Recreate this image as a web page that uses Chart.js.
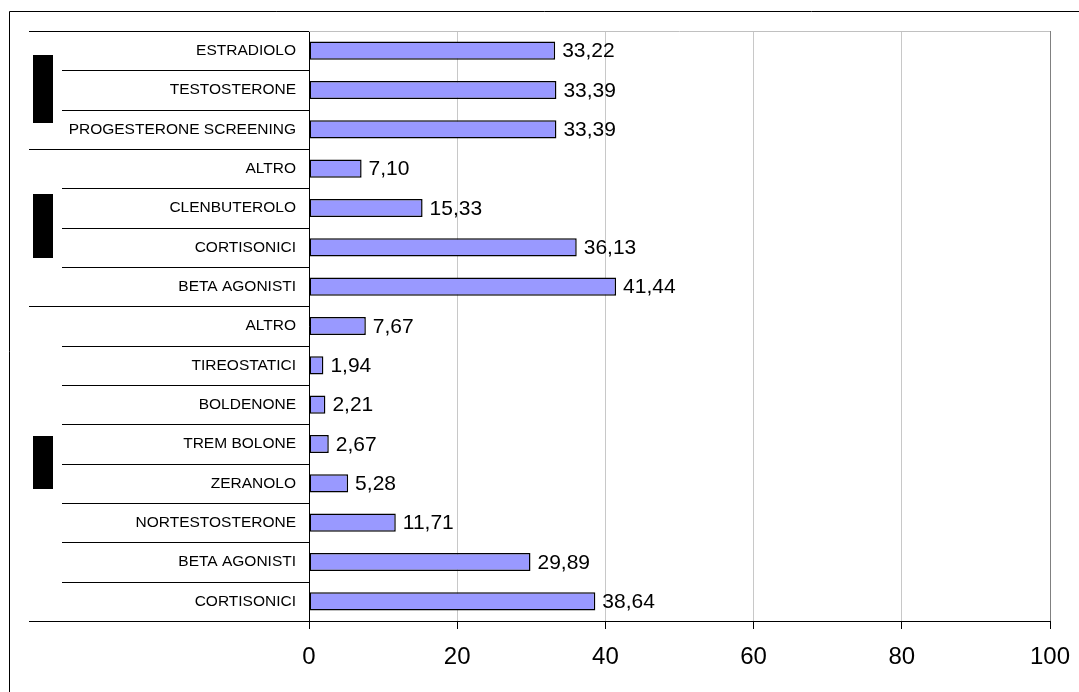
<!DOCTYPE html>
<html>
<head>
<meta charset="utf-8">
<script src="https://cdn.jsdelivr.net/npm/chart.js@4/dist/chart.umd.min.js"></script>
<style>
  body { margin: 0; background: #fff; }
  #wrap { width: 1079px; height: 692px; }
</style>
</head>
<body>
<div id="wrap"><canvas id="chart" width="1079" height="692"></canvas></div>
<script>
// categories, top to bottom
const categories = [
    'ESTRADIOLO', 'TESTOSTERONE', 'PROGESTERONE SCREENING',
    'ALTRO', 'CLENBUTEROLO', 'CORTISONICI', 'BETA AGONISTI',
    'ALTRO', 'TIREOSTATICI', 'BOLDENONE', 'TREM BOLONE', 'ZERANOLO',
    'NORTESTOSTERONE', 'BETA AGONISTI', 'CORTISONICI'
];
const values = [
    33.22, 33.39, 33.39,
    7.10, 15.33, 36.13, 41.44,
    7.67, 1.94, 2.21, 2.67, 5.28, 11.71, 29.89, 38.64
];
// number of categories in each group (top to bottom)
const groupSizes = [3, 4, 8];
const xTicks = [0, 20, 40, 60, 80, 100];

const FONT = 'Arial, "Liberation Sans", sans-serif';
// heights of the black group-label blocks
const groupBoxHeights = [68, 64, 53];

// separators in the category area, group boxes, value labels, frame
const decorations = {
    id: 'decorations',
    afterDraw(chart) {
        const ctx = chart.ctx;
        const area = chart.chartArea;
        const y = chart.scales.y;
        const n = categories.length;

        ctx.save();
        // plot area top border
        ctx.lineWidth = 1;
        ctx.strokeStyle = '#c0c0c0';
        ctx.beginPath();
        ctx.moveTo(area.left, area.top + 0.5);
        ctx.lineTo(area.right, area.top + 0.5);
        ctx.stroke();

        // separators
        const groupEnds = [];
        let acc = 0;
        groupSizes.forEach(s => { acc += s; groupEnds.push(acc); });
        ctx.strokeStyle = '#000';
        for (let i = 0; i <= n; i++) {
            let py;
            if (i === 0) py = area.top;
            else if (i === n) py = area.bottom;
            else py = (y.getPixelForValue(i - 1) + y.getPixelForValue(i)) / 2;
            py = Math.round(py) + 0.5;
            const isGroup = i === 0 || groupEnds.includes(i);
            ctx.beginPath();
            ctx.moveTo(isGroup ? 29 : 62, py);
            ctx.lineTo(area.left, py);
            ctx.stroke();
        }

        // group label blocks
        ctx.fillStyle = '#000';
        let start = 0;
        groupSizes.forEach((s, g) => {
            const top = start === 0 ? area.top : (y.getPixelForValue(start - 1) + y.getPixelForValue(start)) / 2;
            const end = start + s;
            const bot = end === n ? area.bottom : (y.getPixelForValue(end - 1) + y.getPixelForValue(end)) / 2;
            const mid = (top + bot) / 2 - 1.5;
            const h = groupBoxHeights[g];
            ctx.fillRect(33, Math.round(mid - h / 2), 20, h);
            start = end;
        });

        // value labels
        const meta = chart.getDatasetMeta(0);
        ctx.font = '21px ' + FONT;
        ctx.textAlign = 'left';
        ctx.textBaseline = 'middle';
        meta.data.forEach((bar, i) => {
            ctx.fillText(values[i].toFixed(2).replace('.', ','), bar.x + 7, bar.y + 1);
        });

        // outer frame (left and top)
        ctx.strokeStyle = '#000';
        ctx.beginPath();
        ctx.moveTo(9.5, 692);
        ctx.lineTo(9.5, 11.5);
        ctx.lineTo(1079, 11.5);
        ctx.stroke();
        ctx.restore();
    }
};

new Chart(document.getElementById('chart'), {
    type: 'bar',
    data: {
        labels: categories,
        datasets: [{
            data: values,
            backgroundColor: '#9999ff',
            borderColor: '#000',
            borderWidth: 1.5,
            borderSkipped: false,
            barPercentage: 0.46,
            categoryPercentage: 1
        }]
    },
    options: {
        indexAxis: 'y',
        responsive: false,
        animation: false,
        layout: { padding: { left: 0, top: 31, right: 29, bottom: 0 } },
        plugins: { legend: { display: false }, tooltip: { enabled: false } },
        scales: {
            x: {
                min: 0,
                max: 100,
                afterBuildTicks: axis => { axis.ticks = xTicks.map(v => ({ value: v })); },
                afterFit: axis => {
                    axis.height = 71;
                    axis.paddingLeft = 0;
                    axis.paddingRight = 0;
                },
                grid: {
                    color: ctx => ctx.tick && ctx.tick.value === 100 ? '#808080' : '#c8c8c8',
                    tickColor: '#000',
                    tickLength: 8,
                    lineWidth: 1
                },
                border: { display: true, color: '#000', width: 1 },
                ticks: {
                    color: '#000',
                    font: { family: FONT, size: 24 },
                    padding: 14,
                    maxRotation: 0
                }
            },
            y: {
                afterFit: axis => { axis.width = 309; },
                grid: { display: false, drawTicks: false },
                border: { display: true, color: '#000', width: 1 },
                ticks: {
                    color: '#000',
                    font: { family: FONT, size: 15.5 },
                    padding: 13,
                    autoSkip: false
                }
            }
        }
    },
    plugins: [decorations]
});
</script>
</body>
</html>
